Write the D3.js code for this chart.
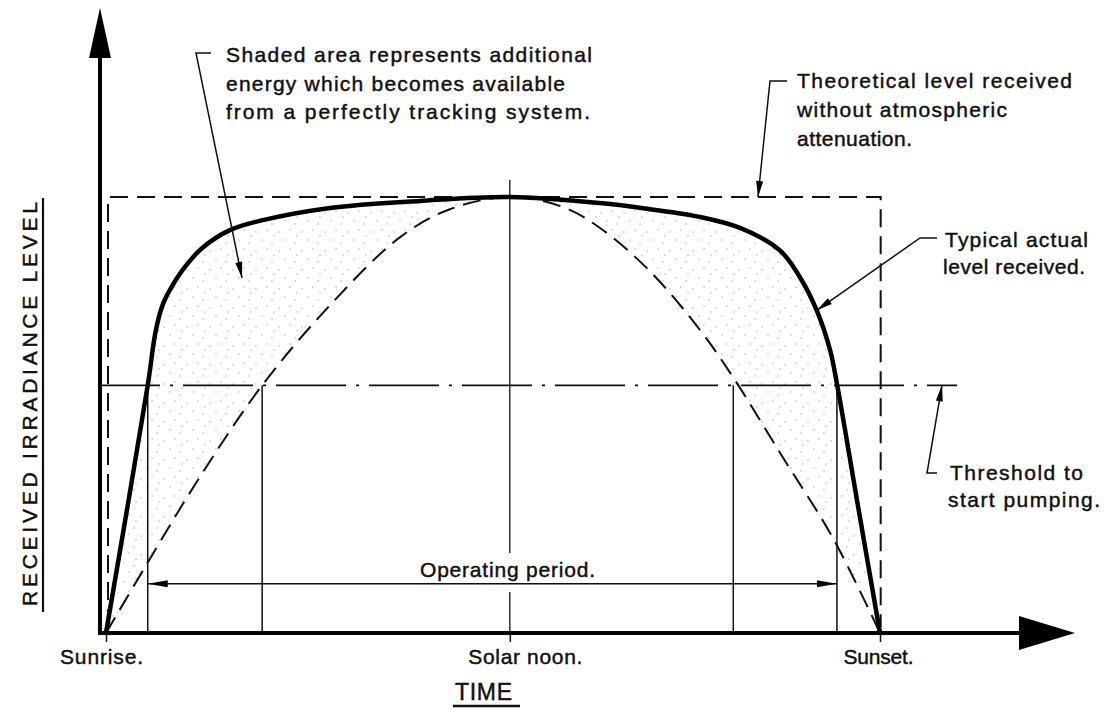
<!DOCTYPE html>
<html>
<head>
<meta charset="utf-8">
<script src="https://cdn.jsdelivr.net/npm/d3@7"></script>
<style>
  html, body { margin: 0; padding: 0; background: #fff; }
  svg { display: block; }
  text { font-family: "Liberation Sans", Arial, sans-serif; fill: #111; stroke: #111; stroke-width: 0.45px; }
</style>
</head>
<body>
<svg id="chart"></svg>
<script>
// time of day in hours, irradiance as a fraction of the theoretical level
const sunrise = 6.0, noon = 12.0, sunset = 17.5;
const tickTimes = [sunrise, noon, sunset];
const tickLabels = ["Sunrise.", "Solar noon.", "Sunset."];

// typical actual level received (perfectly tracking)
const actualTime  = [6.00, 6.62, 6.74, 6.85, 6.98, 7.17, 7.43, 7.84, 8.33, 9.33, 10.67, 12.00, 13.34, 14.08, 14.83, 15.42, 16.01, 16.31, 16.56, 16.76, 16.86, 17.16, 17.50];
const actualLevel = [0, 0.568, 0.694, 0.756, 0.795, 0.839, 0.883, 0.924, 0.947, 0.975, 0.991, 1.000, 0.986, 0.972, 0.954, 0.929, 0.878, 0.816, 0.740, 0.648, 0.572, 0.303, 0];

// fixed collector
const fixedTime  = [6.00, 6.61, 7.35, 8.32, 9.33, 10.37, 11.11, 12.00, 12.79, 13.34, 14.08, 14.83, 15.32, 16.06, 16.80, 17.50];
const fixedLevel = [0, 0.159, 0.347, 0.568, 0.752, 0.908, 0.972, 1.000, 0.977, 0.929, 0.830, 0.694, 0.586, 0.402, 0.218, 0];

const theoreticalTime = [6.03, 17.51];
const theoreticalLevel = 1.0;
const thresholdLevel = 0.568;
const crossingTimes = [6.62, 8.32, 15.32, 16.86];
const operatingTimes = [6.62, 16.86];
const operatingLevel = 0.113;

var width = 1113,
    height = 709;

var x = d3.scaleLinear().domain([sunrise, sunset]).range([106, 880]);
var y = d3.scaleLinear().domain([0, 1]).range([633, 197]);

var svg = d3.select("#chart")
    .attr("width", width)
    .attr("height", height);

var defs = svg.append("defs");
var pat = defs.append("pattern")
    .attr("id", "stipple")
    .attr("width", 23).attr("height", 19)
    .attr("patternUnits", "userSpaceOnUse");
[[3, 4], [14, 2], [9, 12], [19, 15], [21, 8]].forEach(p => {
    pat.append("circle").attr("cx", p[0]).attr("cy", p[1]).attr("r", 0.8).attr("fill", "#b5b5b5");
});

let actual = actualTime.map((t, i) => ({t: t, v: actualLevel[i]}));
let fixed = fixedTime.map((t, i) => ({t: t, v: fixedLevel[i]}));

let line = d3.line()
    .x(d => x(d.t))
    .y(d => y(d.v))
    .curve(d3.curveCatmullRom.alpha(0.5));

// shaded gain between the two curves
svg.append("path")
    .attr("d", line(actual) + line(fixed.slice().reverse()).replace(/^M/, "L") + "Z")
    .attr("fill", "url(#stipple)")
    .attr("stroke", "none");

// theoretical level box
svg.append("path")
    .attr("d", d3.line()([
        [x(theoreticalTime[0]), y(0) - 6],
        [x(theoreticalTime[0]), y(theoreticalLevel)],
        [x(theoreticalTime[1]), y(theoreticalLevel)],
        [x(theoreticalTime[1]), y(0) - 6]
    ]))
    .attr("fill", "none")
    .attr("stroke", "#111")
    .attr("stroke-width", 2)
    .attr("stroke-dasharray", "18,9");

// threshold line, dash-dot, drawn right to left
svg.append("line")
    .attr("x1", 957).attr("x2", 100)
    .attr("y1", y(thresholdLevel)).attr("y2", y(thresholdLevel))
    .attr("stroke", "#111")
    .attr("stroke-width", 1.6)
    .attr("stroke-dasharray", "70,10,3,10")
    .attr("stroke-dashoffset", 40);

// drop lines at threshold crossings
svg.selectAll(".drop")
    .data(crossingTimes)
    .enter().append("line")
        .attr("class", "drop")
        .attr("x1", d => x(d)).attr("x2", d => x(d))
        .attr("y1", y(thresholdLevel)).attr("y2", y(0))
        .attr("stroke", "#111")
        .attr("stroke-width", 1.5);

// solar noon centre line, broken round the operating period label
[[180, 553], [592, 633]].forEach(seg => {
    svg.append("line")
        .attr("x1", x(noon)).attr("x2", x(noon))
        .attr("y1", seg[0]).attr("y2", seg[1])
        .attr("stroke", "#111")
        .attr("stroke-width", 1.3);
});

// fixed collector curve
svg.append("path")
    .attr("d", line(fixed))
    .attr("fill", "none")
    .attr("stroke", "#111")
    .attr("stroke-width", 2)
    .attr("stroke-dasharray", "18,9");

// actual curve
svg.append("path")
    .attr("d", line(actual))
    .attr("fill", "none")
    .attr("stroke", "#000")
    .attr("stroke-width", 4.5)
    .attr("stroke-linejoin", "round");

function arrowHead(from, tip, len, half) {
    let dx = tip[0] - from[0], dy = tip[1] - from[1];
    let d = Math.sqrt(dx * dx + dy * dy);
    let ux = dx / d, uy = dy / d;
    let bx = tip[0] - ux * len, by = tip[1] - uy * len;
    svg.append("polygon")
        .attr("points", [tip, [bx - uy * half, by + ux * half], [bx + uy * half, by - ux * half]]
            .map(p => p.join(",")).join(" "))
        .attr("fill", "#000");
}

function leader(points, tip) {
    svg.append("path")
        .attr("d", d3.line()(points.concat([tip])))
        .attr("fill", "none")
        .attr("stroke", "#111")
        .attr("stroke-width", 1.5);
    arrowHead(points[points.length - 1], tip, 16, 3.5);
}

// operating period dimension line
let opY = y(operatingLevel);
svg.append("line")
    .attr("x1", x(operatingTimes[0])).attr("x2", x(operatingTimes[1]))
    .attr("y1", opY).attr("y2", opY)
    .attr("stroke", "#111")
    .attr("stroke-width", 1.6);
arrowHead([x(operatingTimes[0]) + 40, opY], [x(operatingTimes[0]), opY], 20, 3.5);
arrowHead([x(operatingTimes[1]) - 40, opY], [x(operatingTimes[1]), opY], 20, 3.5);

// axes
svg.append("line")
    .attr("x1", 100).attr("x2", 1020)
    .attr("y1", y(0)).attr("y2", y(0))
    .attr("stroke", "#000").attr("stroke-width", 4);
svg.append("polygon")
    .attr("points", "1075,633 1019,616 1019,650")
    .attr("fill", "#000");
svg.append("line")
    .attr("x1", 100).attr("x2", 100)
    .attr("y1", y(0) + 2).attr("y2", 55)
    .attr("stroke", "#000").attr("stroke-width", 4);
svg.append("polygon")
    .attr("points", "100,8 89,58 111,58")
    .attr("fill", "#000");

let labelShift = [-5, 15, -2];
let labelWidth = [83, 114, 70];
let xAxis = svg.append("g")
    .attr("transform", "translate(0," + y(0) + ")")
    .call(d3.axisBottom(x)
        .tickValues(tickTimes)
        .tickSize(9)
        .tickPadding(7)
        .tickFormat((d, i) => tickLabels[i]));
xAxis.select(".domain").remove();
xAxis.selectAll(".tick line").attr("stroke", "#111").attr("stroke-width", 1.5);
xAxis.selectAll(".tick text")
    .attr("dx", (d, i) => labelShift[i])
    .attr("textLength", (d, i) => labelWidth[i])
    .attr("lengthAdjust", "spacing")
    .style("font-family", '"Liberation Sans", Arial, sans-serif')
    .style("font-size", "21px")
    .attr("fill", "#111");

// axis titles
svg.append("text")
    .attr("transform", "translate(37,404) rotate(-90)")
    .attr("text-anchor", "middle")
    .attr("textLength", 404)
    .attr("lengthAdjust", "spacing")
    .style("font-size", "21px")
    .text("RECEIVED IRRADIANCE LEVEL");
svg.append("line")
    .attr("x1", 43).attr("x2", 43).attr("y1", 198).attr("y2", 612)
    .attr("stroke", "#111").attr("stroke-width", 2.2);

svg.append("text")
    .attr("x", 455).attr("y", 700)
    .attr("textLength", 57)
    .attr("lengthAdjust", "spacing")
    .style("font-size", "23px")
    .text("TIME");
svg.append("line")
    .attr("x1", 453).attr("x2", 520).attr("y1", 706).attr("y2", 706)
    .attr("stroke", "#111").attr("stroke-width", 2.5);

// notes: [text, x, baseline, width]
const notes = [
    ["Shaded area represents additional", 226, 62, 366],
    ["energy which becomes available", 226, 91, 339],
    ["from a perfectly tracking system.", 226, 119, 364],
    ["Theoretical level received", 797, 88, 275],
    ["without atmospheric", 797, 117, 210],
    ["attenuation.", 797, 146, 115],
    ["Typical actual", 945, 247, 143],
    ["level received.", 943, 274, 142],
    ["Threshold to", 950, 480, 133],
    ["start pumping.", 948, 507, 152],
    ["Operating period.", 420, 577, 175]
];
svg.selectAll(".note")
    .data(notes)
    .enter().append("text")
        .attr("class", "note")
        .attr("x", d => d[1])
        .attr("y", d => d[2])
        .attr("textLength", d => d[3])
        .attr("lengthAdjust", "spacing")
        .style("font-size", "21px")
        .text(d => d[0]);

// leaders
leader([[211, 53], [196, 53]], [242, 278]);
leader([[787, 81], [770, 81]], [758, y(theoreticalLevel)]);
leader([[937, 238], [920, 238]], [x(actual[18].t), y(actual[18].v)]);
leader([[937, 473], [927, 473]], [942, y(thresholdLevel)]);
</script>
</body>
</html>
